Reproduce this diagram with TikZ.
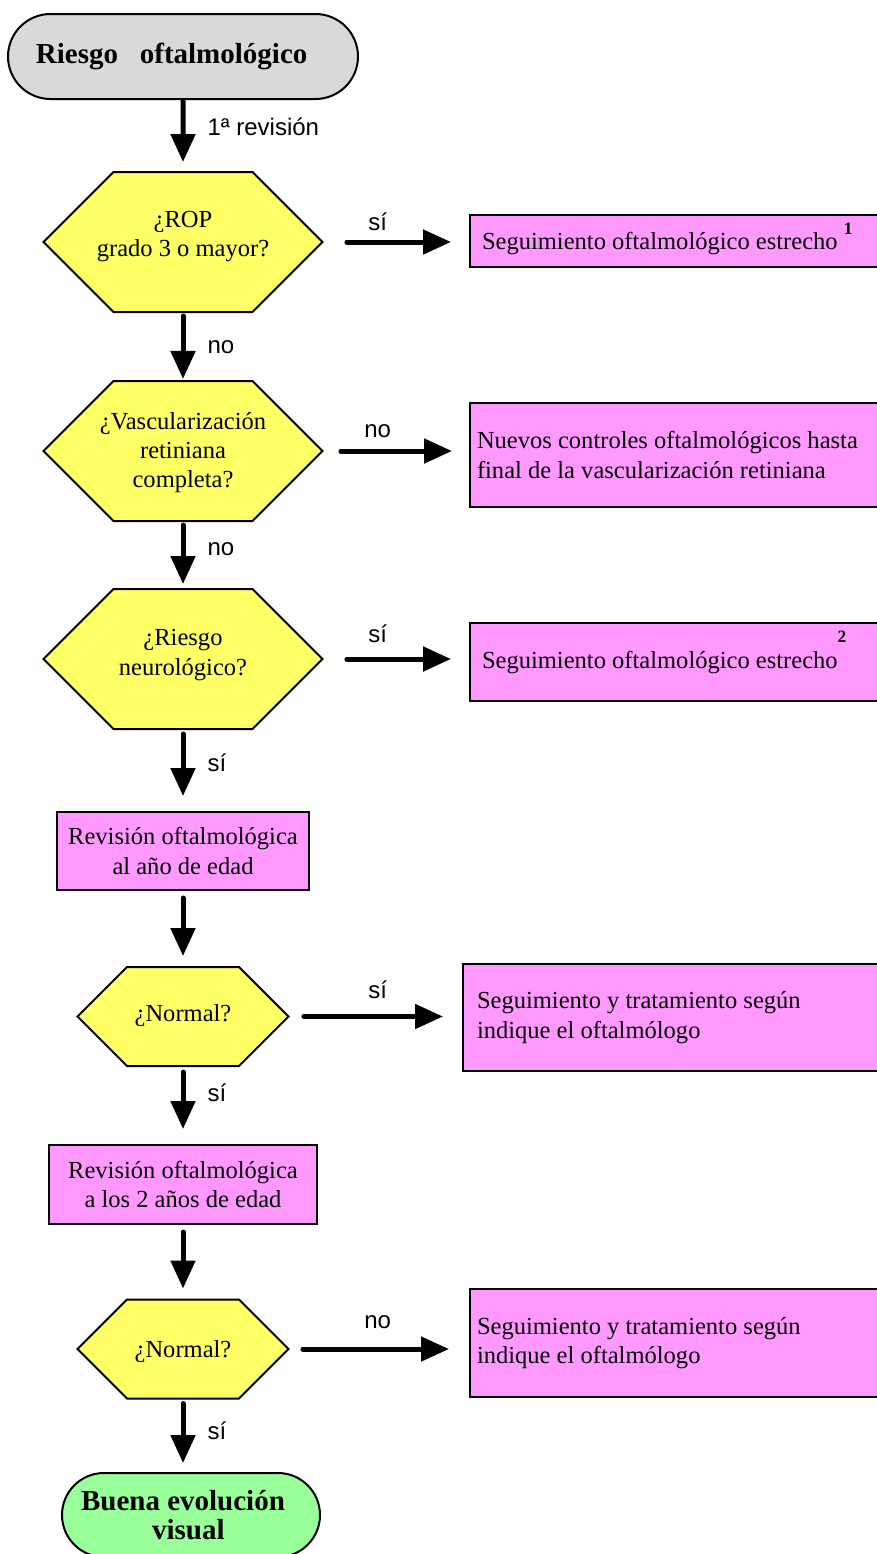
\documentclass[tikz,border=0pt]{standalone}
\usepackage{xcolor}
\usepackage{fontspec}
\setmainfont{Liberation Serif}
\setsansfont{Liberation Sans}
\usepackage{tikz}
\usetikzlibrary{shapes.misc,shapes.symbols,arrows.meta}

\definecolor{startgrey}{RGB}{217,217,217}
\definecolor{askyellow}{RGB}{255,255,102}
\definecolor{notepink}{RGB}{255,153,255}
\definecolor{endgreen}{RGB}{153,255,153}

\newcommand\serifsize{\fontsize{18.4}{22}\selectfont}
\newcommand\boldsize{\fontsize{21.75}{22}\selectfont\bfseries}
\newcommand\armsize{\sffamily\fontsize{18}{20}\selectfont}
\newcommand\supnum[1]{{\fontsize{13}{13}\selectfont\bfseries #1}}
\newcommand\hexlines[1]{\makebox[0pt]{\begin{tabular}{@{}c@{}}#1\end{tabular}}}

\tikzset{
  startcap/.style={rounded rectangle, draw, line width=1.5pt, fill=startgrey, font=\boldsize, inner sep=0pt},
  endcap/.style={rounded rectangle, draw, line width=1.5pt, fill=endgreen, font=\boldsize, align=center, inner sep=0pt},
  hexq/.style={signal, signal to=west and east, signal pointer angle=90, draw, line width=1.5pt, fill=askyellow, font=\serifsize, inner sep=0pt, text height=20pt, text depth=20pt},
  notebox/.style={rectangle, draw, line width=1.5pt, fill=notepink, font=\serifsize, anchor=west, text width=330pt, align=flush left, inner ysep=0pt},
  revbox/.style={rectangle, draw, line width=1.5pt, fill=notepink, font=\serifsize, align=center, inner sep=0pt},
  flowarrow/.style={line width=3.75pt, line cap=round, -{Triangle[length=21pt,width=18pt]}},
  armlabel/.style={font=\armsize, anchor=west, inner sep=0pt, xshift=16.5pt},
  toplabel/.style={font=\armsize, inner sep=0pt}
}

\begin{document}
\begin{tikzpicture}[x=0.75pt,y=0.75pt,yscale=-1,xscale=1]
\clip (0,0) rectangle (877,1554);

%Shape: Rounded Rect [start]
\node[startcap, minimum width=262.5pt, minimum height=63.75pt] (start) at (183,56.5) {Riesgo\ \ \ oftalmológico\hspace*{17pt}};

%Shape: Hexagons [questions]
\node[hexq, minimum width=209.25pt, minimum height=105pt] (q1) at (183,242) {\hexlines{¿ROP\\grado 3 o mayor?}};
\node[hexq, minimum width=209.25pt, minimum height=105pt, text height=25.5pt, text depth=14.5pt] (q2) at (183,451) {\hexlines{¿Vascularización\\retiniana\\completa?}};
\node[hexq, minimum width=209.25pt, minimum height=105pt, text height=21pt, text depth=19pt] (q3) at (183,659) {\hexlines{¿Riesgo\\neurológico?}};
\node[hexq, minimum width=158.25pt, minimum height=74.25pt, text height=24pt, text depth=16pt] (q4) at (183,1016.5) {\hexlines{¿Normal?}};
\node[hexq, minimum width=158.25pt, minimum height=74.25pt, text height=26pt, text depth=14pt] (q5) at (183,1349) {\hexlines{¿Normal?}};

%Shape: Rectangles [left column]
\node[revbox, minimum width=189pt, minimum height=58.5pt] (r1) at (183,851) {Revisión oftalmológica\\al año de edad};
\node[revbox, minimum width=201pt, minimum height=59.25pt] (r2) at (183,1184.5) {Revisión oftalmológica\\a los 2 años de edad};

%Shape: Ellipse [end]
\node[endcap, minimum width=193.5pt, minimum height=63pt] (fin) at (191,1515) {Buena evolución\hspace*{12pt}\\visual\hspace*{4pt}};

%Shape: Rectangles [right column]
\node[notebox, inner xsep=9pt, minimum height=39pt, text height=14pt, text depth=1pt] (s1) at (469,241) {Seguimiento oftalmológico estrecho \smash{\raisebox{11.5pt}{\supnum{1}}}};
\node[notebox, inner xsep=5.25pt, minimum height=78pt] (s2) at (469,455) {Nuevos controles oftalmológicos hasta\\final de la vascularización retiniana};
\node[notebox, inner xsep=9pt, minimum height=58.5pt] (s3) at (469,662) {Seguimiento oftalmológico estrecho\smash{\raisebox{19pt}{\supnum{2}}}};
\node[notebox, inner xsep=10.5pt, minimum height=80.25pt] (s4) at (462,1017.5) {Seguimiento y tratamiento según\\indique el oftalmólogo};
\node[notebox, inner xsep=5.25pt, minimum height=81pt] (s5) at (469,1343) {Seguimiento y tratamiento según\\indique el oftalmólogo};

%Straight Lines [down]
\draw[flowarrow, shorten <=0.75pt, shorten >=6.75pt] (start) -- node[armlabel, pos=0.38] {1ª revisión} (q1);
\draw[flowarrow, shorten <=2.25pt, shorten >=0.75pt] (q1) -- node[armlabel, pos=0.51] {no} (q2);
\draw[flowarrow, shorten <=2.25pt, shorten >=3pt] (q2) -- node[armlabel, pos=0.41] {no} (q3);
\draw[flowarrow, shorten <=3pt, shorten >=11.25pt] (q3) -- node[armlabel, pos=0.41] {sí} (r1);
\draw[flowarrow, shorten <=5.25pt, shorten >=7.5pt] (r1) -- (q4);
\draw[flowarrow, shorten <=3.75pt, shorten >=11.25pt] (q4) -- node[armlabel, pos=0.33] {sí} (r2);
\draw[flowarrow, shorten <=5.25pt, shorten >=7.5pt] (r2) -- (q5);
\draw[flowarrow, shorten <=3pt, shorten >=6.75pt] (q5) -- node[armlabel, pos=0.43] {sí} (q5 |- fin.north);

%Straight Lines [right]
\draw[flowarrow, shorten <=17.25pt, shorten >=13.5pt] (q1.east) -- node[toplabel, pos=0.37, yshift=15pt] {sí} (q1.east -| s1.west);
\draw[flowarrow, shorten <=12.75pt, shorten >=12.75pt] (q2.east) -- node[toplabel, pos=0.37, yshift=15pt] {no} (q2.east -| s2.west);
\draw[flowarrow, shorten <=17.25pt, shorten >=13.5pt] (q3.east) -- node[toplabel, pos=0.37, yshift=18.75pt] {sí} (q3.east -| s3.west);
\draw[flowarrow, shorten <=10.5pt, shorten >=14.25pt] (q4.east) -- node[toplabel, pos=0.51, yshift=20pt] {sí} (q4.east -| s4.west);
\draw[flowarrow, shorten <=9.75pt, shorten >=15pt] (q5.east) -- node[toplabel, pos=0.49, yshift=20pt] {no} (q5.east -| s5.west);

\end{tikzpicture}
\end{document}
